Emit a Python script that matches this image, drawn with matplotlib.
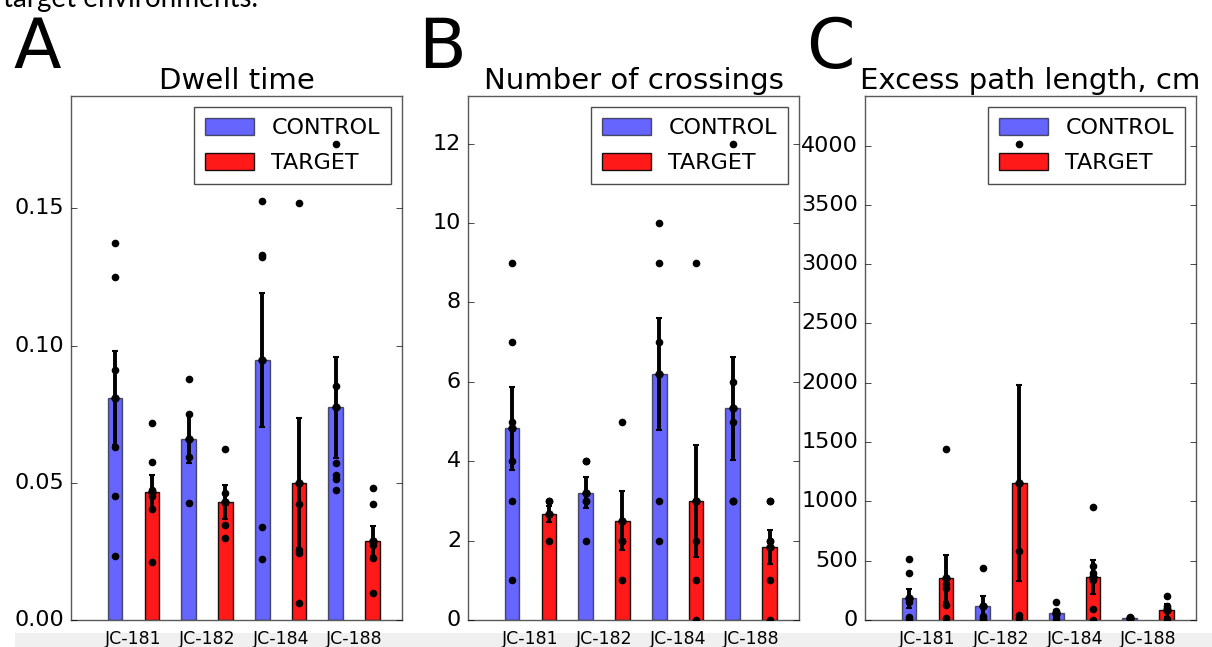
import numpy as np
import matplotlib
matplotlib.use('Agg')
import matplotlib.pyplot as plt
from matplotlib.patches import Rectangle

plt.style.use('classic')
plt.rcParams['font.family'] = ['DejaVu Sans']

animals = ['JC-181', 'JC-182', 'JC-184', 'JC-188']

# dwell time (fraction of session)
dwell_ctrl_mean = [0.0808, 0.0661, 0.0948, 0.0776]
dwell_ctrl_sem = [0.0172, 0.0088, 0.0245, 0.0184]
dwell_targ_mean = [0.0467, 0.0430, 0.0499, 0.0287]
dwell_targ_sem = [0.0063, 0.0062, 0.0236, 0.0055]
dwell_ctrl_pts = [[0.1373, 0.1249, 0.0912, 0.0630, 0.0452, 0.0233],
                  [0.0879, 0.0752, 0.0594, 0.0427],
                  [0.1527, 0.1331, 0.1324, 0.0339, 0.0224],
                  [0.1736, 0.0852, 0.0573, 0.0530, 0.0515, 0.0475]]
dwell_targ_pts = [[0.0718, 0.0576, 0.0475, 0.0451, 0.0406, 0.0213],
                  [0.0622, 0.0463, 0.0430, 0.0345, 0.0299],
                  [0.1518, 0.0422, 0.0255, 0.0245, 0.0061],
                  [0.0481, 0.0421, 0.0285, 0.0273, 0.0227, 0.0099]]

# number of crossings
cross_ctrl_mean = [4.83, 3.21, 6.2, 5.33]
cross_ctrl_sem = [1.05, 0.39, 1.42, 1.29]
cross_targ_mean = [2.67, 2.5, 3.0, 1.83]
cross_targ_sem = [0.2, 0.74, 1.41, 0.43]
cross_ctrl_pts = [[9, 7, 5, 4, 3, 1], [4, 4, 3, 3, 2], [10, 9, 7, 3, 2], [12, 6, 5, 3, 3, 3]]
cross_targ_pts = [[3, 3, 2], [5, 2, 2, 1], [9, 3, 2, 1, 0], [3, 3, 2, 2, 1, 0]]

# excess path length, cm
path_ctrl_mean = [182, 118, 56, 14]
path_ctrl_sem = [80, 87, 30, 6]
path_targ_mean = [351, 1158, 365, 84]
path_targ_sem = [200, 825, 145, 55]
path_ctrl_pts = [[513, 393, 180, 154, 28, 6], [435, 30, 14, 0], [154, 78, 40, 5], [22, 10]]
path_targ_pts = [[1445, 300, 267, 126, 14], [4016, 583, 42, 14],
                 [953, 457, 400, 337, 90, 0], [202, 118, 98, 5]]

fig = plt.figure(figsize=(12.12, 6.47), dpi=100, facecolor='w')

W, H = 1212., 647.
ax_lefts = [71, 468, 865]


def panel(ax, title, cm, cs, cp, tm, ts, tp, step):
    n = len(animals)
    xc = np.arange(n) * 2 + 1.0
    xt = xc + 1.0
    width = 0.4
    b1 = ax.bar(xc, cm, width, align='edge', color='b', alpha=0.6, linewidth=1)
    b2 = ax.bar(xt, tm, width, align='edge', color='r', alpha=0.9, linewidth=1)
    for x, m, s in ((xc, cm, cs), (xt, tm, ts)):
        ax.errorbar(x + width / 2, m, yerr=s, fmt='o', color='k', ecolor='k',
                    elinewidth=2.8, capsize=2.5, capthick=1.5, markersize=5.5, zorder=3)
    # individual sessions go on top of everything, legend included
    for x, pts in ((xc, cp), (xt, tp)):
        for xi, p in zip(x, pts):
            ax.plot([xi + width / 2] * len(p), p, 'o', color='k', markersize=5.5,
                    markeredgewidth=0, zorder=10)
    top = 1.1 * max(max(max(p) for p in cp), max(max(p) for p in tp))
    ax.set_ylim(0, top)
    ax.set_xlim(0, 9)
    ax.set_yticks(np.arange(0, top, step))
    ax.set_xticks(xc + 0.7)
    ax.set_xticklabels(animals)
    ax.tick_params(axis='x', length=0, pad=7, labelsize=12.5)
    ax.tick_params(axis='y', labelsize=16, pad=5)
    for sp in ax.spines.values():
        sp.set_edgecolor('0.35')
    ax.set_title(title, fontsize=21)
    leg = ax.legend([b1, b2], ['CONTROL', 'TARGET'], loc='upper right', fontsize=16,
                    labelspacing=0.65, borderpad=0.5, handlelength=2.2,
                    handleheight=0.8, handletextpad=0.8)
    leg.get_frame().set_edgecolor('0.3')


axes = [fig.add_axes([l / W, 27 / H, 331 / W, 524 / H]) for l in ax_lefts]

panel(axes[0], 'Dwell time', dwell_ctrl_mean, dwell_ctrl_sem, dwell_ctrl_pts,
      dwell_targ_mean, dwell_targ_sem, dwell_targ_pts, 0.05)
panel(axes[1], 'Number of crossings', cross_ctrl_mean, cross_ctrl_sem, cross_ctrl_pts,
      cross_targ_mean, cross_targ_sem, cross_targ_pts, 2)
panel(axes[2], 'Excess path length, cm', path_ctrl_mean, path_ctrl_sem, path_ctrl_pts,
      path_targ_mean, path_targ_sem, path_targ_pts, 500)

for letter, x in zip(['A', 'B', 'C'], [13, 418, 806]):
    fig.text(x / W, 1 - 68 / H, letter, fontsize=50, ha='left', va='baseline')

fig.text(3 / W, 1 - 7 / H, 'target environments.', fontsize=20, family='Lato',
         ha='left', va='baseline')

fig.patches.append(Rectangle((15 / W, 0), 1, 14 / H, transform=fig.transFigure,
                             facecolor='#f0f0f0', edgecolor='none', zorder=-1))

plt.savefig('out.png', dpi=100, facecolor='w')
